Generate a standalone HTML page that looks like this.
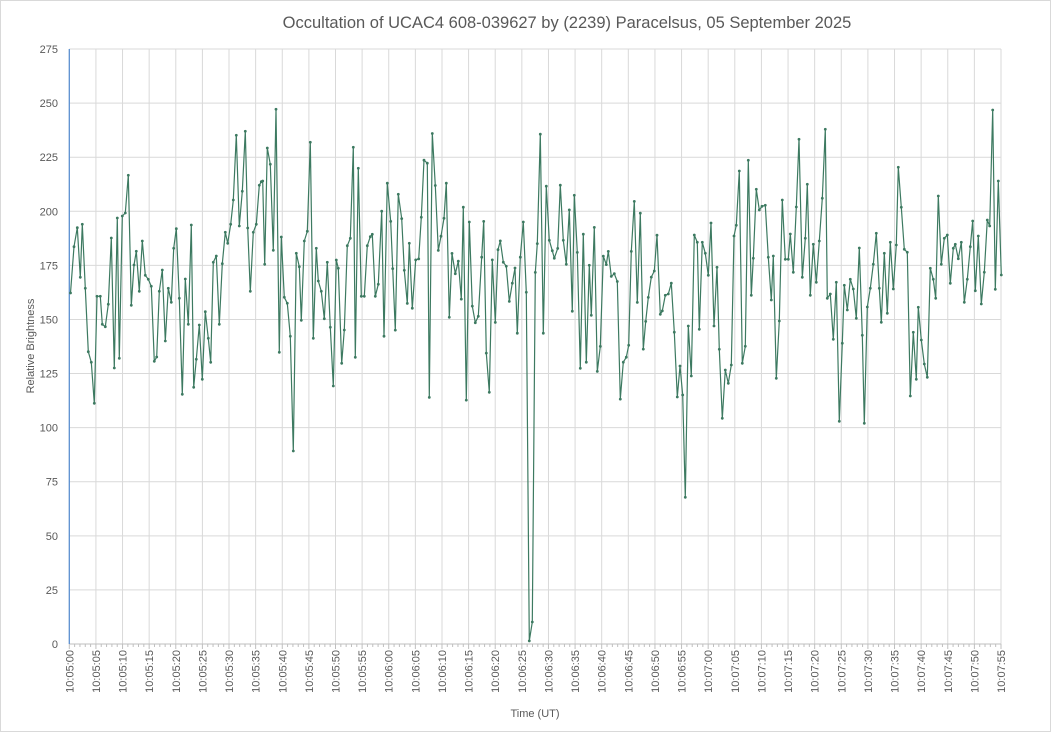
<!DOCTYPE html>
<html><head><meta charset="utf-8"><style>
html,body{margin:0;padding:0;background:#fff;}
svg{display:block;font-family:"Liberation Sans",sans-serif;}
</style></head><body>
<svg id="s" width="1051" height="732" viewBox="0 0 1051 732" xmlns="http://www.w3.org/2000/svg">
<rect x="0.5" y="0.5" width="1050" height="731" fill="#fff" stroke="#d9d9d9"/>
<text x="567" y="28" text-anchor="middle" font-size="16.5" fill="#595959">Occultation of UCAC4 608-039627 by (2239) Paracelsus, 05 September 2025</text>
<g id="grid"></g>
<g id="labels" font-size="11" fill="#595959"></g>
<text x="34" y="346" font-size="11" fill="#595959" text-anchor="middle" transform="rotate(-90 34 346)">Relative Brightness</text>
<text x="535" y="717" font-size="11" fill="#595959" text-anchor="middle">Time (UT)</text>
<polyline id="line" fill="none" stroke="#3d7a61" stroke-width="1.2" stroke-linejoin="round"/>
<g id="dots" fill="#3d7a61"></g>
</svg>
<script>
var NS="http://www.w3.org/2000/svg";
function el(t,a,p){var e=document.createElementNS(NS,t);for(var k in a)e.setAttribute(k,a[k]);p.appendChild(e);return e;}
var g=document.getElementById('grid'),lb=document.getElementById('labels');
var X0=69.3,X1=1001,Y0=644,K=2.1636;
for(var v=0;v<=275;v+=25){var y=Y0-v*K;el('line',{x1:X0,x2:X1,y1:y,y2:y,stroke:'#d9d9d9','stroke-width':1},g);
var t=el('text',{x:58,y:y+4,'text-anchor':'end'},lb);t.textContent=v;}
var dx=(X1-X0)/35;
for(var i=0;i<=35;i++){var x=X0+i*dx;if(i>0)el('line',{x1:x,x2:x,y1:Y0-275*K,y2:Y0,stroke:'#d9d9d9','stroke-width':1},g);
el('line',{x1:x,x2:x,y1:Y0,y2:Y0+5,stroke:'#bfbfbf','stroke-width':1},g);
var s=i*5,m=5+Math.floor(s/60),ss=s%60;var txt='10:0'+m+':'+(ss<10?'0':'')+ss;
var tt=el('text',{x:x+4,y:650,'text-anchor':'end',transform:'rotate(-90 '+(x+4)+' 650)'},lb);tt.textContent=txt;}
for(var i=0;i<175;i++){if(i%5==0)continue;var x=X0+i*dx/5;el('line',{x1:x,x2:x,y1:Y0,y2:Y0+3,stroke:'#bfbfbf','stroke-width':1},g);}
el('line',{x1:X0,x2:X1,y1:Y0,y2:Y0,stroke:'#bfbfbf','stroke-width':1},g);
el('line',{x1:X0,x2:X0,y1:Y0-275*K,y2:Y0,stroke:'#5b8fd0','stroke-width':1.3},g);
var z1=[33,609,42,470,52,413,61,562,67,403,76,595,85,785,94,817,103,940,111,619,121,619,127,703,136,710,145,643,154,444,163,834,172,384,178,805,187,378,196,369,205,256,214,646,222,525,229,484,238,604,247,453,256,556,265,568,274,589,283,814,290,801,298,604,307,540,316,753,325,595,334,637,341,475,349,416,358,625,367,913,376,567,385,703,394,405,401,892,409,808,418,705,427,868,436,665,445,745,452,817,460,517,469,498,478,703,487,521,496,427,503,460,512,403,520,330,529,136,538,408,547,304,556,124,563,414,571,604,580,427,589,403,598,286,604,275,608,273,614,523,622,174,631,223,640,481,648,58,658,787,664,441,673,622,682,640,691,739,700,1083,709,490,718,530,724,691,733,453,742,424,751,157,760,745,769,475,775,573,784,604,793,686,802,517,811,712,820,888,829,510,835,535,845,820,853,720,862,467,871,445,880,172,886,802,895,235,904,619,913,619,922,467,931,440,937,433,946,619,955,583];
var z2=[35,270,42,640,52,187,62,300,68,440,76,622,85,220,95,292,103,445,112,543,118,365,127,557,137,414,146,411,154,288,162,119,172,128,178,821,187,40,196,194,205,386,213,344,222,291,229,187,238,584,246,395,256,455,265,418,274,530,280,258,289,829,298,302,307,551,316,600,325,581,335,406,341,300,349,690,358,806,367,414,376,599,384,384,391,358,400,421,409,433,418,537,427,483,435,438,442,631,451,406,460,302,469,510,478,1542,487,1486,496,451,502,366,511,42,520,631,529,196,538,356,547,387,553,409,563,380,571,193,580,356,589,427,598,266,607,566,613,223,622,392,631,735,640,338,649,717,658,430,664,578,673,318,682,744,691,670,700,403,709,428,715,389,724,463,733,455,742,478,751,826,760,717,769,702,776,667,784,389,793,241,802,540,811,276,820,678,827,596,835,525,844,465,853,447,861,341,871,575,877,565,886,519,895,515,904,483,913,628,922,820];
var z3=[0,798,8,885,16,1192,25,678,34,828,43,405,52,427,58,688,67,427,76,460,85,526,93,369,102,678,111,502,118,748,127,955,136,810,145,850,154,795,162,408,169,376,178,213,187,790,196,739,205,181,214,586,220,475,229,268,238,330,246,319,256,316,265,472,274,600,280,468,289,835,298,663,307,300,316,478,325,478,331,402,340,517,349,321,357,118,367,532,376,415,382,253,391,586,400,433,409,547,418,423,427,295,436,88,442,595,451,582,460,718,469,547,478,964,487,730,493,556,502,630,511,538,520,567,529,655,538,444,547,706,553,970,562,621,571,565,580,493,589,400,598,565,604,667,613,460,622,640,631,427,640,567,649,435,655,202,664,322,673,448,682,457,691,888,700,697,709,838,715,622,724,720,733,792,742,832,751,505,760,538,767,595,775,288,784,493,793,415,802,405,811,550,820,445,826,433,835,476,844,427,853,607,862,538,871,440,878,363,886,572,895,408,904,612,913,517,922,360,929,378,938,30,946,568,955,243,964,525];
var pts=[];
function add(a,ox,oy,sx,sy){for(var i=0;i<a.length;i+=2)pts.push([ox+a[i]/sx,oy+a[i+1]/sy]);}
add(z1,60,90,3,3);add(z2,370,120,3,2.96);add(z3,680,100,3,3);
pts[0][0]=70.5;
document.getElementById('line').setAttribute('points',pts.map(function(p){return p[0].toFixed(1)+','+p[1].toFixed(1)}).join(' '));
var d=document.getElementById('dots');
pts.forEach(function(p){el('circle',{cx:p[0].toFixed(1),cy:p[1].toFixed(1),r:1.4},d);});
</script>
</body></html>
